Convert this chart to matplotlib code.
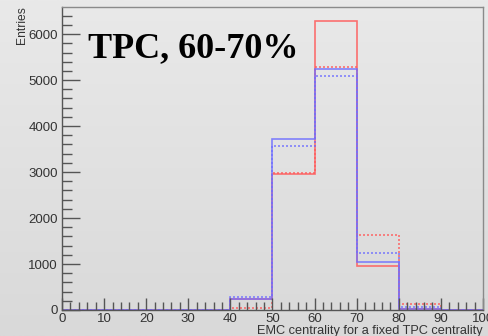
import numpy as np
import matplotlib
matplotlib.use("Agg")
import matplotlib.pyplot as plt
from matplotlib.ticker import MultipleLocator

# Centrality bin edges (%)
edges = [0, 10, 20, 30, 40, 50, 60, 70, 80, 90, 100]

# Entries per EMC centrality bin
red_solid = [0, 0, 0, 0, 230, 2960, 6290, 965, 25, 0]
red_dotted = [0, 0, 0, 0, 50, 2975, 5285, 1625, 120, 0]
blue_solid = [0, 0, 0, 0, 230, 3710, 5235, 1045, 15, 0]
blue_dotted = [0, 0, 0, 0, 290, 3570, 5095, 1235, 70, 0]

title_text = "TPC, 60-70%"
x_label = "EMC centrality for a fixed TPC centrality"
y_label = "Entries"

W, H = 489, 336
fig = plt.figure(figsize=(W / 100, H / 100), dpi=100)
fig.patch.set_facecolor("#e0e0e0")

# soft vertical background shading
bg = fig.add_axes([0, 0, 1, 1], zorder=-10)
grad = np.linspace(0, 1, 256)[:, None]
bg.imshow(grad, aspect="auto", cmap=matplotlib.colors.LinearSegmentedColormap.from_list(
    "bg", ["#e9e9e9", "#d9d9d9"]), extent=[0, 1, 0, 1])
bg.axis("off")

ax = fig.add_axes([62 / W, 1 - 310 / H, (483 - 62) / W, (310 - 7) / H])
ax.set_facecolor("none")

red = "#ff5a5a"
blue = "#6f6fff"
lw = 1.2
ax.stairs(red_dotted, edges, baseline=0, color=red, lw=lw, ls=(0, (1.2, 1.2)), alpha=0.85)
ax.stairs(red_solid, edges, baseline=0, color=red, lw=lw, alpha=0.85)
ax.stairs(blue_dotted, edges, baseline=0, color=blue, lw=lw, ls=(0, (1.2, 1.2)), alpha=0.85)
ax.stairs(blue_solid, edges, baseline=0, color=blue, lw=lw, alpha=0.85)

ax.set_xlim(0, 100)
ax.set_ylim(0, 6590)

ax.xaxis.set_major_locator(MultipleLocator(10))
ax.xaxis.set_minor_locator(MultipleLocator(2))
ax.yaxis.set_major_locator(MultipleLocator(1000))
ax.yaxis.set_minor_locator(MultipleLocator(200))

tick_col = "#555555"
ax.tick_params(axis="both", which="both", direction="in", color=tick_col,
               labelcolor="#333333", labelsize=9.5, width=1.0)
ax.tick_params(axis="y", which="major", length=13, pad=3)
ax.tick_params(axis="y", which="minor", length=7)
ax.tick_params(axis="x", which="major", length=9, pad=2)
ax.tick_params(axis="x", which="minor", length=6)
ax.tick_params(top=False, right=False)

for s in ["left", "bottom"]:
    ax.spines[s].set_color("#555555")
    ax.spines[s].set_linewidth(1.0)
for s in ["top", "right"]:
    ax.spines[s].set_color("#8a8a8a")
    ax.spines[s].set_linewidth(1.0)

for lab in ax.get_xticklabels() + ax.get_yticklabels():
    lab.set_family("Liberation Sans")

ax.set_xlabel(x_label, fontsize=9.2, family="Liberation Sans", color="#333333",
              loc="right", labelpad=0)
ax.set_ylabel(y_label, fontsize=8.7, family="Liberation Sans", color="#333333",
              loc="top")
ax.yaxis.set_label_coords(-34 / 421, 1.003)

ax.text(26 / 421, 1 - (57.5 - 7) / 303, title_text, transform=ax.transAxes,
        fontsize=26, family="Liberation Serif", fontweight="bold", color="black",
        ha="left", va="baseline")

fig.savefig("out.png", dpi=100)
